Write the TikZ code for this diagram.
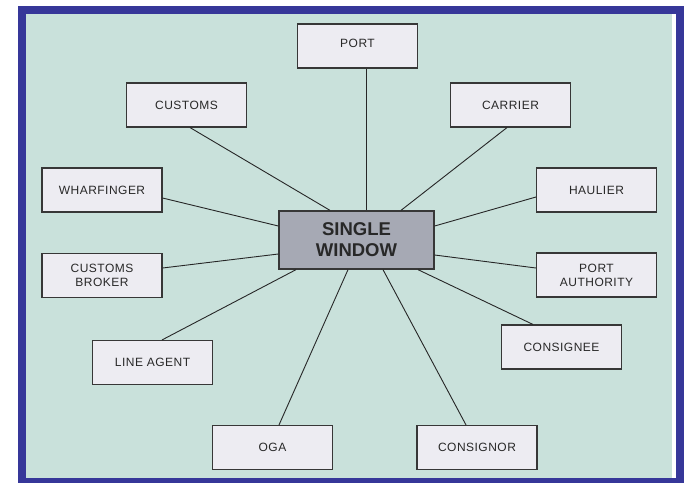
\documentclass[tikz,border=0pt]{standalone}
\usepackage{fontspec}
\setmainfont{Liberation Sans}
\newfontfamily\boxfont[LetterSpace=4]{Liberation Sans}
\usetikzlibrary{calc}
\definecolor{framebl}{RGB}{54,55,153}
\definecolor{bggreen}{RGB}{201,225,219}
\definecolor{boxfill}{RGB}{237,236,242}
\definecolor{swfill}{RGB}{166,169,180}
\definecolor{edgegray}{RGB}{55,55,55}
\definecolor{txt}{RGB}{40,40,40}
\tikzset{
  actor/.style={draw=edgegray, line width=1.1pt, fill=boxfill, minimum width=120pt, minimum height=44pt,
    inner sep=0pt, align=center, font=\boxfont\fontsize{12}{14}\selectfont, text=txt},
  hub/.style={draw=edgegray, line width=1.3pt, fill=swfill, minimum width=155pt, minimum height=58pt,
    inner sep=0pt, align=center, font=\bfseries\fontsize{18.5}{21}\selectfont, text=txt},
  link/.style={draw=black!85, line width=0.9pt}
}
\begin{document}
\begin{tikzpicture}[x=1pt,y=-1pt]
\useasboundingbox (0,0) rectangle (684,483);
\fill[white] (0,0) rectangle (684,483);
\fill[framebl] (18,6) rectangle (684,483);
\fill[white] (26,14) rectangle (676,478);
\fill[bggreen] (26,14) rectangle (672,478);

\node[hub] (sw) at (356.5,240) {SINGLE\\WINDOW};
\node[actor] (port) at (357.5,46) {\raisebox{5pt}{PORT}};
\node[actor] (customs) at (186.5,105) {CUSTOMS};
\node[actor] (carrier) at (510.5,105) {CARRIER};
\node[actor] (wharf) at (102,190) {WHARFINGER};
\node[actor] (haulier) at (596.5,190) {HAULIER};
\node[actor] (broker) at (102,275.5) {CUSTOMS\\BROKER};
\node[actor] (pa) at (596.5,275) {PORT\\AUTHORITY};
\node[actor] (line) at (152.5,362.5) {LINE AGENT};
\node[actor] (consignee) at (561.5,347) {CONSIGNEE};
\node[actor] (oga) at (272.5,447.5) {OGA};
\node[actor] (consignor) at (477,447.5) {CONSIGNOR};

\draw[link] ($(port.south)+(8.5,0)$) -- ($(sw.north)+(9.5,0)$);
\draw[link] ($(customs.south)+(3.5,0)$) -- ($(sw.north)+(-26.5,0)$);
\draw[link] ($(carrier.south)+(-3.5,0)$) -- ($(sw.north)+(44.5,0)$);
\draw[link] ($(wharf.east)+(0,8)$) -- ($(sw.west)+(0,-14)$);
\draw[link] ($(haulier.west)+(0,7)$) -- ($(sw.east)+(0,-14)$);
\draw[link] ($(broker.east)+(0,-7.5)$) -- ($(sw.west)+(0,14)$);
\draw[link] ($(pa.west)+(0,-7)$) -- ($(sw.east)+(0,15)$);
\draw[link] ($(sw.south)+(-60.5,0)$) -- ($(line.north)+(9.5,0)$);
\draw[link] ($(sw.south)+(-8.5,0)$) -- ($(oga.north)+(6.5,0)$);
\draw[link] ($(sw.south)+(26.5,0)$) -- ($(consignor.north)+(-11,0)$);
\draw[link] ($(sw.south)+(61.5,0)$) -- ($(consignee.north)+(-28.5,0)$);
\end{tikzpicture}
\end{document}
